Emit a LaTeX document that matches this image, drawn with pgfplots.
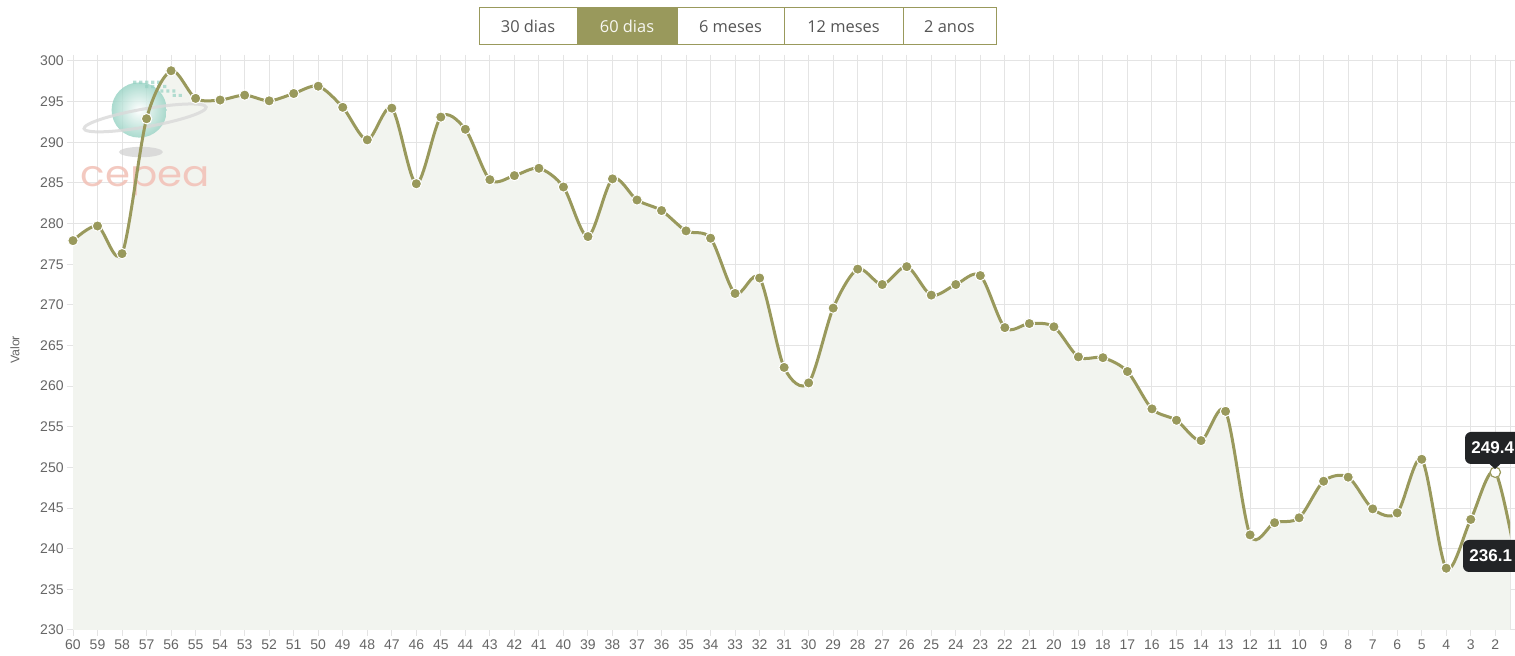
\documentclass[border=0pt]{standalone}
\usepackage{pgfplots}
\pgfplotsset{compat=1.18}
\usepackage{fontspec}
\setmainfont{Liberation Sans}
\newfontfamily\opensans{Open Sans}
\newfontfamily\poppins{Poppins}
\definecolor{lineC}{RGB}{153,153,92}
\definecolor{fillC}{RGB}{242,244,239}
\definecolor{gridC}{RGB}{228,228,228}
\definecolor{labC}{RGB}{102,102,102}
\definecolor{btnT}{RGB}{85,85,85}
\definecolor{tealC}{RGB}{150,210,195}
\definecolor{pinkC}{RGB}{242,192,182}
\definecolor{tipC}{RGB}{34,36,38}
\pgfplotstableread{
x y
0 277.9
1 279.7
2 276.3
3 292.9
4 298.8
5 295.4
6 295.2
7 295.8
8 295.1
9 296.0
10 296.9
11 294.3
12 290.3
13 294.2
14 284.9
15 293.1
16 291.6
17 285.4
18 285.9
19 286.8
20 284.5
21 278.4
22 285.5
23 282.9
24 281.6
25 279.1
26 278.2
27 271.4
28 273.3
29 262.3
30 260.4
31 269.6
32 274.4
33 272.5
34 274.7
35 271.2
36 272.5
37 273.6
38 267.2
39 267.7
40 267.3
41 263.6
42 263.5
43 261.8
44 257.2
45 255.8
46 253.3
47 256.9
48 241.7
49 243.2
50 243.8
51 248.3
52 248.8
53 244.9
54 244.4
55 251.0
56 237.6
57 243.6
58 249.4
59 236.1
}\pricedata
\begin{document}
\begin{tikzpicture}
\useasboundingbox[fill=white] (0,0) rectangle (757.5pt,328pt);
\begin{axis}[
  at={(36.5pt,13pt)}, anchor=south west,
  scale only axis, width=718.5pt, height=284.5pt,
  xmin=0, xmax=58.6, ymin=230, ymax=300,
  xtick={0,...,58},
  xticklabels={60,59,58,57,56,55,54,53,52,51,50,49,48,47,46,45,44,43,42,41,40,39,38,37,36,35,34,33,32,31,30,29,28,27,26,25,24,23,22,21,20,19,18,17,16,15,14,13,12,11,10,9,8,7,6,5,4,3,2},
  ytick={230,235,...,300},
  grid=major,
  major grid style={draw=gridC, line width=0.5pt},
  axis line style={draw=gridC, line width=0.5pt},
  tick style={draw=gridC, line width=0.5pt},
  major tick length=3pt,
  tick align=outside,
  /pgf/number format/assume math mode=true,
  ticklabel style={font=\fontsize{7}{8}\selectfont, text=labC},
  yticklabel style={inner sep=1.5pt},
  xticklabel style={inner sep=1.5pt},
  clip=true,
]
\addplot[draw=none, fill=fillC, smooth, tension=0.5] table[x=x,y=y]{\pricedata} \closedcycle;
% watermark
\fill[gray!35, opacity=0.75] (axis cs:2.77,288.8) ellipse [x radius=11pt, y radius=2.6pt];
\shade[inner color=white, outer color=tealC, opacity=0.8] (axis cs:2.70,293.97) circle [radius=13.8pt];
\draw[gray!30, line width=1.5pt, opacity=0.8, rotate around={10:(axis cs:2.94,293.0)}] (axis cs:2.94,293.0) ellipse [x radius=31pt, y radius=4.5pt];
\fill[tealC, opacity=0.7] (axis cs:2.45,297.2) rectangle ++(1.6pt,1.6pt)
  ++(1.4pt,-1.6pt) rectangle ++(1.6pt,1.6pt)
  ++(1.4pt,-1.6pt) rectangle ++(1.6pt,1.6pt)
  ++(1.4pt,-1.6pt) rectangle ++(1.6pt,1.6pt)
  ++(1.4pt,-1.6pt) rectangle ++(1.6pt,1.6pt)
  ++(-7.6pt,-3.8pt) rectangle ++(1.6pt,1.6pt)
  ++(1.4pt,-1.6pt) rectangle ++(1.6pt,1.6pt)
  ++(1.4pt,-1.6pt) rectangle ++(1.6pt,1.6pt)
  ++(1.4pt,-1.6pt) rectangle ++(1.6pt,1.6pt)
  ++(-3pt,-3.8pt) rectangle ++(1.6pt,1.6pt)
  ++(1.4pt,-1.6pt) rectangle ++(1.6pt,1.6pt)
  ++(1.4pt,-1.6pt) rectangle ++(1.6pt,1.6pt)
  ++(-1.4pt,-3.8pt) rectangle ++(1.6pt,1.6pt)
  ++(1.4pt,-1.6pt) rectangle ++(1.6pt,1.6pt);
\node[text=pinkC, font=\poppins\fontsize{18}{18}\selectfont, xscale=1.12, inner sep=0pt, opacity=0.85] at (axis cs:2.94,285.2) {cepea};
\addplot[lineC, line width=1.5pt, smooth, tension=0.5,
  mark=*, mark size=2.6pt, mark options={fill=lineC, draw=white, line width=0.5pt}]
  table[x=x,y=y]{\pricedata};
\addplot[only marks, mark=*, mark size=2.6pt, mark options={fill=white, draw=lineC, line width=0.6pt}] coordinates {(58,249.4)};
\end{axis}
% y label
\node[rotate=90, text=labC, font=\fontsize{6.2}{7}\selectfont] at (7.5pt,153pt) {Valor};
% buttons
\begin{scope}[x=0.5pt,y=0.5pt]
\fill[lineC] (577,611) rectangle (677,648);
\draw[lineC, line width=0.5pt] (479,611) rectangle (996,648);
\foreach \b in {577,677,784,903}{\draw[lineC, line width=0.5pt] (\b,611) -- (\b,648);}
\node[text=btnT, font=\opensans\fontsize{8.2}{9}\selectfont] at (528,629.5) {30 dias};
\node[text=white!92!lineC, font=\opensans\fontsize{8.2}{9}\selectfont] at (627,629.5) {60 dias};
\node[text=btnT, font=\opensans\fontsize{8.2}{9}\selectfont] at (730.5,629.5) {6 meses};
\node[text=btnT, font=\opensans\fontsize{8.2}{9}\selectfont] at (843.5,629.5) {12 meses};
\node[text=btnT, font=\opensans\fontsize{8.2}{9}\selectfont] at (949.5,629.5) {2 anos};
% tooltips
\begin{scope}
\clip (0,0) rectangle (1515,656);
\fill[tipC, rounded corners=3pt] (1465,192) rectangle (1540,224);
\fill[tipC] (1489,192.5) -- (1501,192.5) -- (1495,187) -- cycle;
\node[anchor=west, text=white, font=\bfseries\fontsize{8.5}{9}\selectfont, inner sep=0pt] at (1471,208) {249.4};
\fill[tipC, rounded corners=3pt] (1463,84) rectangle (1540,116);
\node[anchor=west, text=white, font=\bfseries\fontsize{8.5}{9}\selectfont, inner sep=0pt] at (1469,100) {236.1};
\end{scope}
\end{scope}
\end{tikzpicture}
\end{document}
